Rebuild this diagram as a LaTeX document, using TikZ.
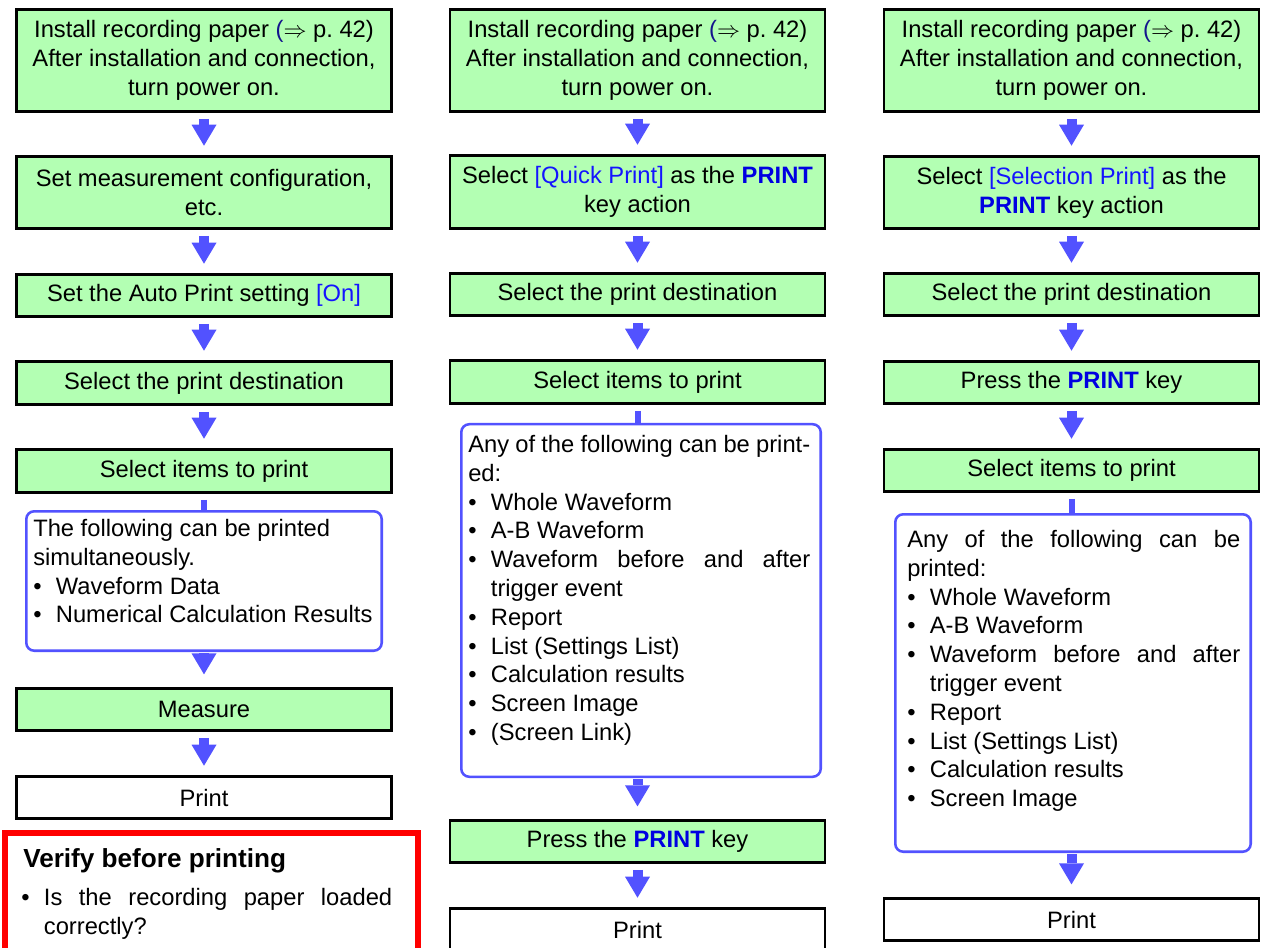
\documentclass[tikz,border=0pt]{standalone}
\usepackage{fontspec}
\setmainfont{Liberation Sans}
\usetikzlibrary{arrows.meta}

\definecolor{boxgreen}{RGB}{179,255,179}
\definecolor{flowblue}{RGB}{82,82,255}
\definecolor{linkblue}{RGB}{20,20,255}
\definecolor{keyblue}{RGB}{0,0,225}
\definecolor{refblue}{RGB}{20,20,140}
\definecolor{warnred}{RGB}{255,0,0}

\setlength\parindent{0pt}
\tolerance=10000
\hyphenpenalty=10000
\exhyphenpenalty=10000

\newcommand\bodyfont{\fontsize{17.8pt}{21.6pt}\selectfont}
\newlength\bulind
\setlength\bulind{17pt}
% bullet items with hanging indent (first one opens the paragraph itself)
\newcommand\itmfirst{\noindent\hangindent=\bulind\hangafter=1\relax\makebox[\bulind][l]{\textbullet}}
\newcommand\itm{\par\itmfirst}
\newcommand\keyname[1]{\textcolor{keyblue}{\bfseries #1}}
\newcommand\menuitem[1]{\textcolor{linkblue}{[#1]}}

\tikzset{
  stepbox/.style={draw=black, line width=2.2pt, fill=boxgreen,
    minimum width=281.25pt, minimum height=31.5pt, align=center,
    inner sep=2pt, font=\bodyfont},
  plainbox/.style={stepbox, fill=white},
  listframe/.style={draw=flowblue, line width=1.9pt, rounded corners=6pt},
  listtext/.style={anchor=north west, inner sep=0pt, align=justify, font=\bodyfont},
  flowarrow/.style={draw=flowblue, line width=7.5pt,
    -{Triangle[width=18.75pt,length=15.75pt,line width=0pt]},
    shorten <=4.5pt, shorten >=7pt},
  feed/.style={draw=flowblue, line width=4.5pt, shorten <=4.5pt},
}

\begin{document}
\begin{tikzpicture}[x=0.75pt, y=-0.75pt]
\useasboundingbox (0,0) rectangle (1264,948);

% ---------------- left column: automatic printing ----------------
\node[stepbox, minimum height=76.5pt] (c1a) at (204,60.5)
  {Install recording paper \textcolor{refblue}{(}$\Rightarrow$ p.~42)\\After installation and connection,\\turn power on.};
\node[stepbox, minimum height=54pt] (c1b) at (204,192.5)
  {Set measurement configuration,\\etc.};
\node[stepbox] (c1c) at (204,295.5) {Set the Auto Print setting \menuitem{On}};
\node[stepbox, minimum height=32.25pt] (c1d) at (204,383) {Select the print destination};
\node[stepbox, minimum height=32.25pt] (c1e) at (204,471) {Select items to print};
\node[listframe, minimum width=266.6pt, minimum height=104.6pt] (c1f) at (204,581) {};
\node[listtext, text width=259pt] (c1t) at (33,519)
  {The following can be printed\newline simultaneously.\itm Waveform Data\itm Numerical Calculation Results\par};
\node[stepbox] (c1g) at (204,709.5) {Measure};
\node[plainbox] (c1h) at (204,797.5) {Print};

\draw[flowarrow] (c1a.south) -- (c1b.north);
\draw[flowarrow] (c1b.south) -- (c1c.north);
\draw[flowarrow] (c1c.south) -- (c1d.north);
\draw[flowarrow] (c1d.south) -- (c1e.north);
\draw[feed] (c1e.south) -- (c1e.south |- c1f.north);
\draw[flowarrow, shorten <=1pt, shorten >=9.5pt] (c1g.north |- c1f.south) -- (c1g.north);
\draw[flowarrow] (c1g.south) -- (c1h.north);

% check list before printing
\node[draw=warnred, line width=4.5pt, minimum width=309.75pt, minimum height=95.25pt] (warnbox) at (211.5,896.5) {};
\node[anchor=base west, inner sep=0pt, font=\fontsize{19.6pt}{23pt}\selectfont\bfseries] (warnhead) at (23,867) {Verify before printing};
\node[listtext, text width=278.25pt] (warnbody) at (21,888)
  {\itmfirst Is~the~recording~paper~loaded\linebreak correctly?\par};

% ---------------- middle column: quick print ----------------
\node[stepbox, minimum height=76.5pt] (c2a) at (637.5,60.5)
  {Install recording paper \textcolor{refblue}{(}$\Rightarrow$ p.~42)\\After installation and connection,\\turn power on.};
\node[stepbox, minimum height=54.75pt] (c2b) at (637.5,192)
  {Select \menuitem{Quick Print} as the \keyname{PRINT}\\key action};
\node[stepbox] (c2c) at (637.5,294.5) {Select the print destination};
\node[stepbox, minimum height=32.25pt] (c2d) at (637.5,382) {Select items to print};
\node[listframe, minimum width=269.6pt, minimum height=264.4pt] (c2e) at (641,600.5) {};
\node[listtext, text width=256.5pt] (c2t) at (468,435)
  {Any~of~the~following~can~be~print-\linebreak ed:\itm Whole Waveform\itm A-B Waveform\itm Waveform~before~and~after\linebreak trigger event\itm Report\itm List (Settings List)\itm Calculation results\itm Screen Image\itm (Screen Link)\par};
\node[stepbox] (c2f) at (637.5,841.5) {Press the \keyname{PRINT} key};
\node[plainbox] (c2g) at (637.5,929.5) {Print};

\draw[flowarrow] (c2a.south) -- (c2b.north);
\draw[flowarrow] (c2b.south) -- (c2c.north);
\draw[flowarrow] (c2c.south) -- (c2d.north);
\draw[feed] (c2d.south) -- (c2d.south |- c2e.north);
\draw[flowarrow, shorten <=1pt, shorten >=9.5pt] (c2f.north |- c2e.south) -- (c2f.north);
\draw[flowarrow] (c2f.south) -- (c2g.north);

% ---------------- right column: selection print ----------------
\node[stepbox, minimum height=76.5pt] (c3a) at (1071.5,60.5)
  {Install recording paper \textcolor{refblue}{(}$\Rightarrow$ p.~42)\\After installation and connection,\\turn power on.};
\node[stepbox, minimum height=54pt] (c3b) at (1071.5,192.5)
  {Select \menuitem{Selection Print} as the\\\keyname{PRINT} key action};
\node[stepbox] (c3c) at (1071.5,294.5) {Select the print destination};
\node[stepbox] (c3d) at (1071.5,382.5) {Press the \keyname{PRINT} key};
\node[stepbox] (c3e) at (1071.5,470.5) {Select items to print};
\node[listframe, minimum width=266.6pt, minimum height=253.1pt] (c3f) at (1073,683) {};
\node[listtext, text width=249.75pt] (c3t) at (907,530)
  {Any~of~the~following~can~be\linebreak printed:\itm Whole Waveform\itm A-B Waveform\itm Waveform~before~and~after\linebreak trigger event\itm Report\itm List (Settings List)\itm Calculation results\itm Screen Image\par};
\node[plainbox] (c3g) at (1071.5,919.5) {Print};

\draw[flowarrow] (c3a.south) -- (c3b.north);
\draw[flowarrow] (c3b.south) -- (c3c.north);
\draw[flowarrow] (c3c.south) -- (c3d.north);
\draw[flowarrow] (c3d.south) -- (c3e.north);
\draw[feed] (c3e.south) -- (c3e.south |- c3f.north);
\draw[flowarrow, shorten <=1pt, shorten >=9.5pt] (c3g.north |- c3f.south) -- (c3g.north);
\end{tikzpicture}
\end{document}
